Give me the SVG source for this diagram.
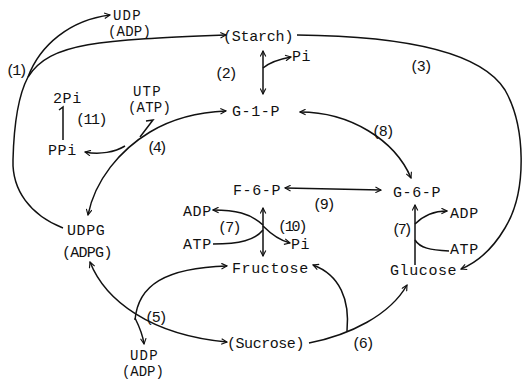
<svg xmlns="http://www.w3.org/2000/svg" width="523" height="381" viewBox="0 0 523 381">
<defs>
<style>
text{font-family:"Liberation Mono","DejaVu Sans Mono",monospace;font-size:15px;letter-spacing:0.6px;fill:#111}
text.s{font-size:14px;letter-spacing:1.2px}
.c path,.c line{fill:none;stroke:#111;stroke-width:1.5}
</style>
<marker id="a" viewBox="0 0 10 10" refX="9" refY="5" markerWidth="7" markerHeight="7" markerUnits="userSpaceOnUse" orient="auto-start-reverse">
<path d="M1,1 L9,5 L1,9" fill="none" stroke="#111" stroke-width="1.6"/>
</marker>
</defs>
<rect width="523" height="381" fill="#fff"/>
<g class="c" id="connectors">
<!-- (1) -->
<path d="M63 228 C30 215,12 190,13 160 C14 120,20 92,28 77"/>
<path d="M28 77 C40 45,70 20,110 15" marker-end="url(#a)"/>
<path d="M28 77 C50 42,100 40,226 35" marker-end="url(#a)"/>
<!-- (2) -->
<line x1="263" y1="51" x2="263" y2="94" marker-start="url(#a)" marker-end="url(#a)"/>
<path d="M263 68 C270 62,280 59,291 57" marker-end="url(#a)"/>
<!-- (3) -->
<path d="M297 35 C400 36,480 50,505 90 C525 125,528 190,505 228 C492 250,478 262,461 269" marker-end="url(#a)"/>
<!-- (11) -->
<path d="M63 140 L63 107 L59 110"/>
<!-- (4) -->
<path d="M88 215 C95 180,120 150,150 132 C175 117,200 112,226 111" marker-start="url(#a)" marker-end="url(#a)"/>
<path d="M125 146 C115 152,100 155,85 152" marker-end="url(#a)"/>
<path d="M146 121 L153 120 L140 137"/>
<!-- (8) -->
<path d="M300 112 C350 112,395 140,411 178" marker-start="url(#a)" marker-end="url(#a)"/>
<!-- (9) -->
<line x1="285" y1="188" x2="381" y2="190" marker-start="url(#a)" marker-end="url(#a)"/>
<!-- (7)/(10) left -->
<line x1="263" y1="208" x2="263" y2="256" marker-start="url(#a)" marker-end="url(#a)"/>
<path d="M263 225 C250 213,235 210,213 210" marker-end="url(#a)"/>
<path d="M213 244 C240 244,255 240,263 230"/>
<path d="M263 226 C270 233,278 240,290 243" marker-end="url(#a)"/>
<!-- (7) right -->
<line x1="415" y1="265" x2="415" y2="205" marker-end="url(#a)"/>
<path d="M415 224 C425 214,435 211,447 211" marker-end="url(#a)"/>
<path d="M449 251 C430 250,420 248,415 240"/>
<!-- (5) -->
<path d="M90 262 C105 300,150 335,227 342" marker-start="url(#a)" marker-end="url(#a)"/>
<path d="M135 320 C138 285,165 268,227 266" marker-end="url(#a)"/>
<path d="M135 318 C140 328,143 336,144 344" marker-end="url(#a)"/>
<!-- (6) -->
<path d="M309 343 C350 335,390 315,407 285" marker-end="url(#a)"/>
<path d="M347 331 C350 300,340 275,313 265" marker-end="url(#a)"/>
</g>
<g id="starch"><text x="223" y="41" textLength="71" lengthAdjust="spacing">(Starch)</text></g>
<g id="udp-top"><text class="s" x="113" y="20">UDP</text><text class="s" x="108" y="36" textLength="44" lengthAdjust="spacing">(ADP)</text></g>
<g id="pi-top"><text x="292" y="61">Pi</text></g>
<g id="g1p"><text x="232" y="116">G-1-P</text></g>
<g id="utp"><text class="s" x="133" y="96">UTP</text><text class="s" x="128" y="112" textLength="44" lengthAdjust="spacing">(ATP)</text></g>
<g id="twopi"><text x="53" y="103">2Pi</text></g>
<g id="ppi"><text x="48" y="155">PPi</text></g>
<g id="f6p"><text x="233" y="195">F-6-P</text></g>
<g id="g6p"><text x="393" y="197">G-6-P</text></g>
<g id="adp-l"><text x="183" y="216">ADP</text></g>
<g id="atp-l"><text x="183" y="249">ATP</text></g>
<g id="pi-mid"><text x="291" y="249">Pi</text></g>
<g id="fructose"><text x="232" y="273">Fructose</text></g>
<g id="adp-r"><text x="450" y="218">ADP</text></g>
<g id="atp-r"><text x="450" y="254">ATP</text></g>
<g id="glucose"><text x="390" y="275">Glucose</text></g>
<g id="udpg"><text x="67" y="235">UDPG</text><text x="62" y="257" textLength="51" lengthAdjust="spacing">(ADPG)</text></g>
<g id="sucrose"><text x="227" y="348" textLength="78" lengthAdjust="spacing">(Sucrose)</text></g>
<g id="udp-bot"><text class="s" x="130" y="360">UDP</text><text class="s" x="122" y="376" textLength="43" lengthAdjust="spacing">(ADP)</text></g>
<g id="labels">
<text x="6" y="75" textLength="22" lengthAdjust="spacing">(1)</text>
<text x="215" y="78" textLength="23" lengthAdjust="spacing">(2)</text>
<text x="410" y="71" textLength="23" lengthAdjust="spacing">(3)</text>
<text x="76" y="124" textLength="32" lengthAdjust="spacing">(11)</text>
<text x="147" y="152" textLength="21" lengthAdjust="spacing">(4)</text>
<text x="372" y="136" textLength="23" lengthAdjust="spacing">(8)</text>
<text x="313" y="209" textLength="23" lengthAdjust="spacing">(9)</text>
<text x="218" y="232" textLength="24" lengthAdjust="spacing">(7)</text>
<text x="278" y="231" textLength="30" lengthAdjust="spacing">(10)</text>
<text x="392" y="234" textLength="21" lengthAdjust="spacing">(7)</text>
<text x="145" y="322" textLength="23" lengthAdjust="spacing">(5)</text>
<text x="352" y="348" textLength="23" lengthAdjust="spacing">(6)</text>
</g>
</svg>
